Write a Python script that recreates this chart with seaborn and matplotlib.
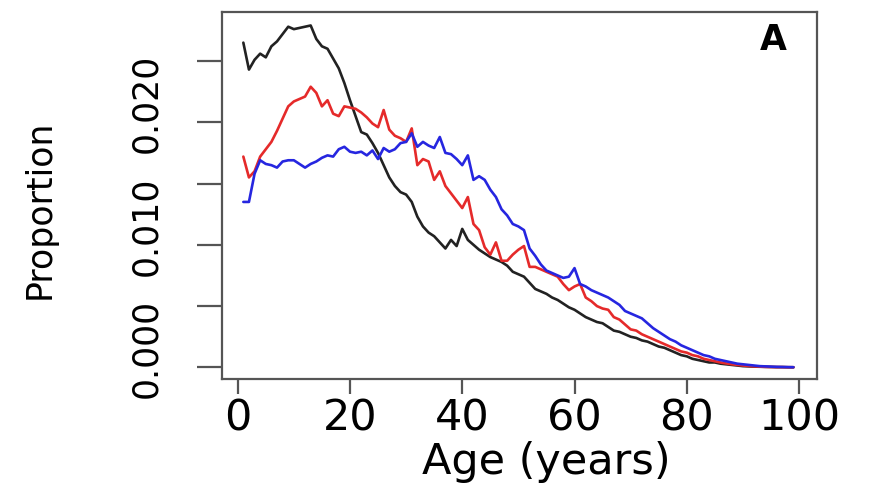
import numpy as np
import pandas as pd
import matplotlib
matplotlib.use("Agg")
import matplotlib.pyplot as plt
import seaborn as sns
from matplotlib.transforms import ScaledTranslation

ages = list(range(1, 100))

black_vals = [0.0265, 0.0243, 0.0251, 0.0256, 0.0253, 0.0262, 0.0266, 0.0272, 0.0278, 0.0276,
              0.0277, 0.0278, 0.0279, 0.0268, 0.0262, 0.0260, 0.0252, 0.0244, 0.0232, 0.0218,
              0.0205, 0.0192, 0.0190, 0.0183, 0.0175, 0.0165, 0.0155, 0.0148, 0.0143, 0.0141,
              0.0135, 0.0123, 0.0115, 0.0110, 0.0107, 0.0102, 0.0097, 0.0104, 0.0099, 0.0113,
              0.0104, 0.0100, 0.0096, 0.0093, 0.0090, 0.0088, 0.0086, 0.0083, 0.0078, 0.0076,
              0.0074, 0.0069, 0.0064, 0.0062, 0.0060, 0.0057, 0.0055, 0.0052, 0.0049, 0.0047,
              0.0044, 0.0041, 0.0039, 0.0037, 0.0036, 0.0033, 0.0030, 0.0029, 0.0027, 0.0025,
              0.0024, 0.0022, 0.0021, 0.0019, 0.0017, 0.0016, 0.0014, 0.0012, 0.0010, 0.0009,
              0.0007, 0.0006, 0.0005, 0.0004, 0.0004, 0.0003, 0.00025, 0.0002, 0.00015, 0.0001,
              0.00008, 0.00006, 0.00005, 0.00004, 0.00003, 0.00002, 0.00002, 0.00001, 0.00001]

red_vals = [0.0172, 0.0155, 0.0160, 0.0172, 0.0178, 0.0184, 0.0193, 0.0203, 0.0213, 0.0217,
            0.0219, 0.0221, 0.0229, 0.0224, 0.0213, 0.0218, 0.0207, 0.0205, 0.0213, 0.0212,
            0.0211, 0.0208, 0.0204, 0.0199, 0.0196, 0.0210, 0.0194, 0.0189, 0.0187, 0.0184,
            0.0195, 0.0165, 0.0170, 0.0168, 0.0153, 0.0160, 0.0148, 0.0142, 0.0136, 0.0130,
            0.0139, 0.0117, 0.0112, 0.0098, 0.0092, 0.0102, 0.0087, 0.0087, 0.0092, 0.0096,
            0.0099, 0.0082, 0.0082, 0.0080, 0.0078, 0.0076, 0.0074, 0.0068, 0.0063, 0.0066,
            0.0068, 0.0057, 0.0054, 0.0050, 0.0048, 0.0047, 0.0041, 0.0039, 0.0035, 0.0031,
            0.0030, 0.0027, 0.0025, 0.0023, 0.0021, 0.0019, 0.0017, 0.0015, 0.0013, 0.0012,
            0.0010, 0.0009, 0.0007, 0.0006, 0.0005, 0.0004, 0.00032, 0.00025, 0.0002, 0.00015,
            0.00011, 0.00008, 0.00006, 0.00004, 0.00003, 0.00002, 0.00002, 0.00001, 0.00001]

blue_vals = [0.0135, 0.0135, 0.0158, 0.0169, 0.0166, 0.0165, 0.0163, 0.0168, 0.0169, 0.0169,
             0.0166, 0.0163, 0.0166, 0.0168, 0.0171, 0.0173, 0.0172, 0.0178, 0.0180, 0.0176,
             0.0175, 0.0176, 0.0173, 0.0177, 0.0170, 0.0179, 0.0176, 0.0178, 0.0183, 0.0184,
             0.0191, 0.0180, 0.0184, 0.0181, 0.0179, 0.0188, 0.0175, 0.0174, 0.0170, 0.0165,
             0.0173, 0.0153, 0.0156, 0.0153, 0.0145, 0.0139, 0.0129, 0.0124, 0.0117, 0.0115,
             0.0112, 0.0097, 0.0091, 0.0084, 0.0079, 0.0077, 0.0075, 0.0073, 0.0074, 0.0081,
             0.0068, 0.0066, 0.0063, 0.0061, 0.0059, 0.0057, 0.0054, 0.0051, 0.0046, 0.0044,
             0.0042, 0.0040, 0.0036, 0.0032, 0.0029, 0.0026, 0.0023, 0.0021, 0.0018, 0.0016,
             0.0014, 0.0012, 0.0010, 0.0009, 0.0007, 0.0006, 0.0005, 0.0004, 0.0003, 0.00025,
             0.0002, 0.00015, 0.0001, 0.00008, 0.00006, 0.00004, 0.00003, 0.00002, 0.00001]

series_names = ["Series 1", "Series 2", "Series 3"]
series_colors = ["#222222", "#e52a2a", "#2626e0"]

y_ticks = [0.000, 0.005, 0.010, 0.015, 0.020, 0.025]
y_tick_labels = ["0.000", "", "0.010", "", "0.020", ""]
x_ticks = [0, 20, 40, 60, 80, 100]
x_tick_labels = ["0", "20", "40", "60", "80", "100"]

df = pd.concat([
    pd.DataFrame({"Age": ages, "Proportion": vals, "Series": name})
    for name, vals in zip(series_names, [black_vals, red_vals, blue_vals])
], ignore_index=True)

sns.set_theme(style="white")
plt.rcParams["font.family"] = ["DejaVu Sans"]
plt.rcParams["text.color"] = "black"
plt.rcParams["axes.labelcolor"] = "black"
plt.rcParams["xtick.labelcolor"] = "black"
plt.rcParams["ytick.labelcolor"] = "black"

fig = plt.figure(figsize=(8.8, 4.98), dpi=100)
ax = fig.add_axes([222 / 880, 1 - 379 / 498, (817 - 222) / 880, (379 - 12) / 498])

sns.lineplot(data=df, x="Age", y="Proportion", hue="Series",
             palette=dict(zip(series_names, series_colors)),
             linewidth=1.9, legend=False, ax=ax)

ax.set_xlim(-2.8, 103.2)
ax.set_ylim(-0.00095, 0.0290)

ax.set_xticks(x_ticks)
ax.set_xticklabels(x_tick_labels, fontsize=31)
ax.set_yticks(y_ticks)
ax.set_yticklabels(y_tick_labels, fontsize=25, rotation=90, va="center")

ax.tick_params(axis="x", direction="out", length=11, width=1.6, color="#555555",
               labelcolor="black", pad=2)
ax.tick_params(axis="y", direction="out", length=18, width=1.6, color="#555555",
               labelcolor="black", pad=24)
ax.tick_params(bottom=True, left=True)

for sp in ax.spines.values():
    sp.set_color("#555555")
    sp.set_linewidth(1.6)

off = ScaledTranslation(0, 19 / 100, fig.dpi_scale_trans)
for lbl in ax.get_yticklabels():
    lbl.set_transform(lbl.get_transform() + off)

ax.set_xlabel("Age (years)", fontsize=31, color="black")
ax.xaxis.label.set_va("center")
ax.xaxis.set_label_coords((546 - 222) / 595, -(462 - 379) / 367)

ax.set_ylabel("Proportion", fontsize=25, color="black")
ax.yaxis.label.set_va("center")
ax.yaxis.set_label_coords(-(222 - 40) / 595, 1 - (209 - 12) / 367)

ax.text(0.927, 0.925, "A", transform=ax.transAxes, fontsize=25, fontweight="bold",
        color="black", ha="center", va="center")

fig.savefig("out.png", dpi=100, facecolor="white")
